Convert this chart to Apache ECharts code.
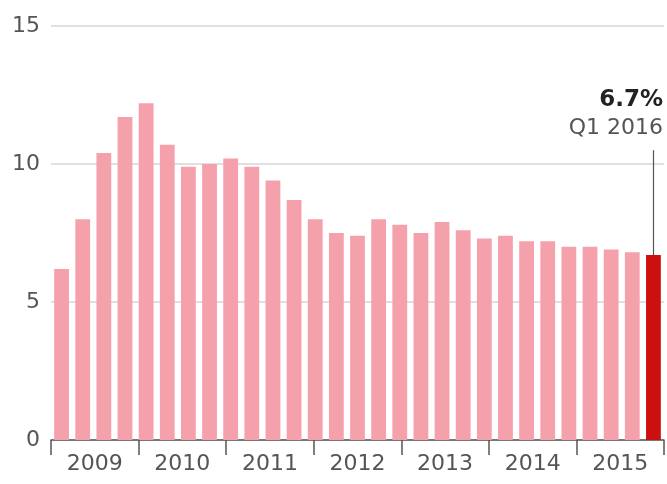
<!DOCTYPE html>
<html><head><meta charset="utf-8">
<script src="https://cdn.jsdelivr.net/npm/echarts@6/dist/echarts.min.js"></script>
<style>html,body{margin:0;padding:0;background:#fff}#c{width:667px;height:484px}</style>
</head><body><div id="c"></div>
<script>
const quarters = ['2009Q1','2009Q2','2009Q3','2009Q4','2010Q1','2010Q2','2010Q3','2010Q4','2011Q1','2011Q2','2011Q3','2011Q4','2012Q1','2012Q2','2012Q3','2012Q4','2013Q1','2013Q2','2013Q3','2013Q4','2014Q1','2014Q2','2014Q3','2014Q4','2015Q1','2015Q2','2015Q3','2015Q4','2016Q1'];
const growth = [6.2,8.0,10.4,11.7,12.2,10.7,9.9,10.0,10.2,9.9,9.4,8.7,8.0,7.5,7.4,8.0,7.8,7.5,7.9,7.6,7.3,7.4,7.2,7.2,7.0,7.0,6.9,6.8,6.7];
const yearLabels = ['2009','2010','2011','2012','2013','2014','2015'];
const yTicks = [0,5,10,15];
const calloutValue = '6.7%';
const calloutLabel = 'Q1 2016';
const calloutTop = 10.5;

const FONT = 'DejaVu Sans';
const last = growth.length - 1;
const chart = echarts.init(document.getElementById('c'));
chart.setOption({
  animation: false,
  grid: {left: 51, right: 3, top: 26, bottom: 44},
  title: [
    {text: calloutValue, right: 4, top: 89, padding: 0,
     textStyle: {fontFamily: FONT, fontSize: 23, fontWeight: 'bold', color: '#222'}},
    {text: calloutLabel, right: 4, top: 117, padding: 0,
     textStyle: {fontFamily: FONT, fontSize: 22, fontWeight: 'normal', color: '#555'}}
  ],
  xAxis: [
    {type: 'category', data: quarters, boundaryGap: true,
     axisLine: {show: false}, axisTick: {show: false}, axisLabel: {show: false}},
    {type: 'category', data: yearLabels, boundaryGap: true, position: 'bottom',
     axisLine: {show: true, lineStyle: {color: '#555', width: 1.5}},
     axisTick: {show: true, length: 15, lineStyle: {color: '#555', width: 1.5}},
     axisLabel: {fontFamily: FONT, fontSize: 22, color: '#555', margin: 13}}
  ],
  yAxis: {
    type: 'value', min: yTicks[0], max: yTicks[yTicks.length-1], interval: 5,
    axisLine: {show: false}, axisTick: {show: false},
    axisLabel: {fontFamily: FONT, fontSize: 22, color: '#555', margin: 11},
    splitLine: {lineStyle: {color: '#d6d6d6', width: 1.5}}
  },
  series: [{
    type: 'bar', xAxisIndex: 0,
    data: growth.map((v, i) => ({value: v, itemStyle: {color: i === last ? '#cc1010' : '#f4a1ac'}})),
    barCategoryGap: '30%',
    markLine: {
      silent: true, symbol: 'none', label: {show: false},
      lineStyle: {color: '#555', width: 1.2, type: 'solid'},
      data: [[{coord: [last, growth[last]]}, {coord: [last, calloutTop]}]]
    }
  }]
});
</script></body></html>
